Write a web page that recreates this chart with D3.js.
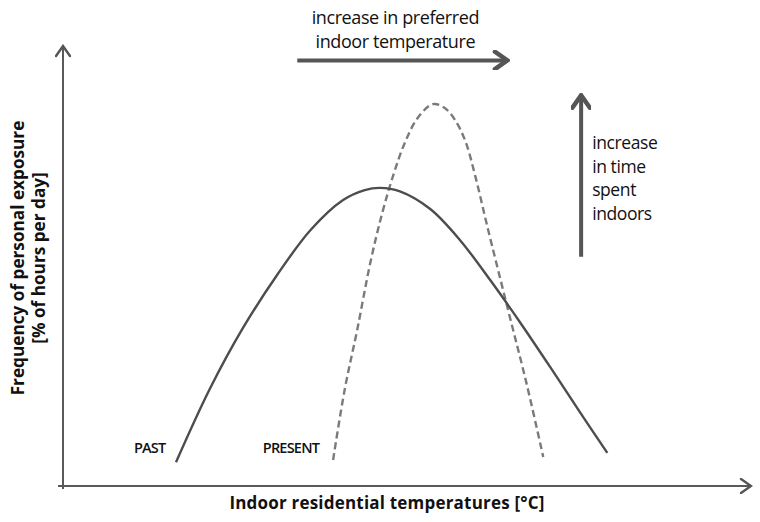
<!DOCTYPE html>
<html>
<head>
<meta charset="utf-8">
<script src="https://cdn.jsdelivr.net/npm/d3@7"></script>
<style>
  body { margin: 0; background: #fff; }
  text { font-family: "Open Sans", sans-serif; fill: #111; }
</style>
</head>
<body>
<div id="chart"></div>
<script>

// curve values (arbitrary units, 0-100 on both axes)
var pastX = [16.4, 21.3, 26.1, 31.1, 35.9, 40.6, 43.8, 46.0, 48.9, 53.3, 57.6, 62.0, 66.3, 70.7, 75.0, 79.0];
var pastY = [5.4, 22.0, 35.8, 47.9, 58.0, 64.8, 67.1, 67.6, 66.8, 62.8, 55.8, 46.7, 37.2, 27.0, 16.8, 7.5];

var presentX = [39.2, 40.9, 42.7, 44.6, 46.3, 47.9, 49.6, 51.5, 53.7, 55.4, 56.9, 58.4, 59.8, 61.5, 64.6, 67.3, 69.7];
var presentY = [5.9, 22.0, 35.4, 50.6, 61.7, 70.3, 77.8, 83.5, 86.6, 85.7, 83.0, 78.2, 70.5, 59.4, 39.9, 23.1, 6.6];

var seriesLabels = ["PAST", "PRESENT"];
var labelPos = [[10.3, 7.5], [29.0, 7.5]];

var xTitle = "Indoor residential temperatures [°C]";
var yTitle = ["Frequency of personal exposure", "[% of hours per day]"];

var tempArrowText = ["increase in preferred", "indoor temperature"];
var tempArrow = [[34.0, 96.5], [64.5, 96.5]];
var timeArrowText = ["increase", "in time", "spent", "indoors"];
var timeArrow = [[75.2, 52.0], [75.2, 88.6]];

//Width and height
var w = 760;
var h = 522;

var x = d3.scaleLinear().domain([0, 100]).range([63, 752]);
var y = d3.scaleLinear().domain([0, 100]).range([486, 45]);

var svg = d3.select("#chart")
  .append("svg")
  .attr("width", w)
  .attr("height", h);

var defs = svg.append("defs");

function chevron(id, color, size, width) {
  defs.append("marker")
    .attr("id", id)
    .attr("viewBox", "-12 -8 14 16")
    .attr("refX", 0)
    .attr("refY", 0)
    .attr("markerUnits", "userSpaceOnUse")
    .attr("markerWidth", size * 14 / 16)
    .attr("markerHeight", size)
    .attr("orient", "auto")
    .append("path")
    .attr("d", "M-10,-7 L0,0 L-10,7")
    .attr("fill", "none")
    .attr("stroke", color)
    .attr("stroke-width", width)
    .attr("stroke-linecap", "round")
    .attr("stroke-linejoin", "miter");
}
chevron("axisHead", "#555", 16, 2.4);
chevron("bigHead", "#555", 20, 3.6);

// axes (no ticks, just arrows)
svg.append("line")
  .attr("x1", x(0) - 5).attr("x2", x(100) - 1)
  .attr("y1", y(0)).attr("y2", y(0))
  .attr("stroke", "#5a5a5a").attr("stroke-width", 2)
  .attr("marker-end", "url(#axisHead)");

svg.append("line")
  .attr("x1", x(0)).attr("x2", x(0))
  .attr("y1", y(0) + 3).attr("y2", y(100) + 1)
  .attr("stroke", "#5a5a5a").attr("stroke-width", 2)
  .attr("marker-end", "url(#axisHead)");

var line = d3.line()
  .x(function(d) { return x(d[0]); })
  .y(function(d) { return y(d[1]); })
  .curve(d3.curveCatmullRom.alpha(0.5));

svg.append("path")
  .datum(d3.zip(presentX, presentY))
  .attr("d", line)
  .attr("fill", "none")
  .attr("stroke", "#7a7a7a")
  .attr("stroke-width", 2.4)
  .attr("stroke-dasharray", "7,4");

svg.append("path")
  .datum(d3.zip(pastX, pastY))
  .attr("d", line)
  .attr("fill", "none")
  .attr("stroke", "#4d4d4d")
  .attr("stroke-width", 2.4);

// series labels
svg.selectAll("text.series")
  .data(seriesLabels)
  .enter()
  .append("text")
  .attr("class", "series")
  .attr("x", function(d, i) { return x(labelPos[i][0]); })
  .attr("y", function(d, i) { return y(labelPos[i][1]); })
  .attr("font-size", 14.5)
  .attr("font-weight", 600)
  .attr("letter-spacing", -0.8)
  .text(function(d) { return d; });

// annotation arrows
svg.append("line")
  .attr("x1", x(tempArrow[0][0])).attr("y1", y(tempArrow[0][1]))
  .attr("x2", x(tempArrow[1][0])).attr("y2", y(tempArrow[1][1]))
  .attr("stroke", "#555").attr("stroke-width", 4)
  .attr("marker-end", "url(#bigHead)");

svg.append("line")
  .attr("x1", x(timeArrow[0][0])).attr("y1", y(timeArrow[0][1]))
  .attr("x2", x(timeArrow[1][0])).attr("y2", y(timeArrow[1][1]))
  .attr("stroke", "#555").attr("stroke-width", 4)
  .attr("marker-end", "url(#bigHead)");

svg.selectAll("text.temp")
  .data(tempArrowText)
  .enter()
  .append("text")
  .attr("class", "temp")
  .attr("x", (x(tempArrow[0][0]) + x(tempArrow[1][0])) / 2 - 7)
  .attr("y", function(d, i) { return 24 + i * 24; })
  .attr("text-anchor", "middle")
  .attr("font-size", 18)
  .attr("letter-spacing", -0.4)
  .text(function(d) { return d; });

svg.selectAll("text.time")
  .data(timeArrowText)
  .enter()
  .append("text")
  .attr("class", "time")
  .attr("x", x(timeArrow[0][0]) + 11)
  .attr("y", function(d, i) { return 149 + i * 23.7; })
  .attr("font-size", 17.5)
  .attr("letter-spacing", -0.4)
  .text(function(d) { return d; });

// axis titles
svg.append("text")
  .attr("x", 387)
  .attr("y", 509)
  .attr("text-anchor", "middle")
  .attr("font-size", 17)
  .attr("font-weight", 700)
  .attr("letter-spacing", 0.2)
  .text(xTitle);

svg.selectAll("text.ytitle")
  .data(yTitle)
  .enter()
  .append("text")
  .attr("class", "ytitle")
  .attr("transform", function(d, i) { return "translate(" + (24 + i * 21) + ",258) rotate(-90)"; })
  .attr("text-anchor", "middle")
  .attr("font-size", 17.2)
  .attr("font-weight", 700)
  .text(function(d) { return d; });

</script>
</body>
</html>
